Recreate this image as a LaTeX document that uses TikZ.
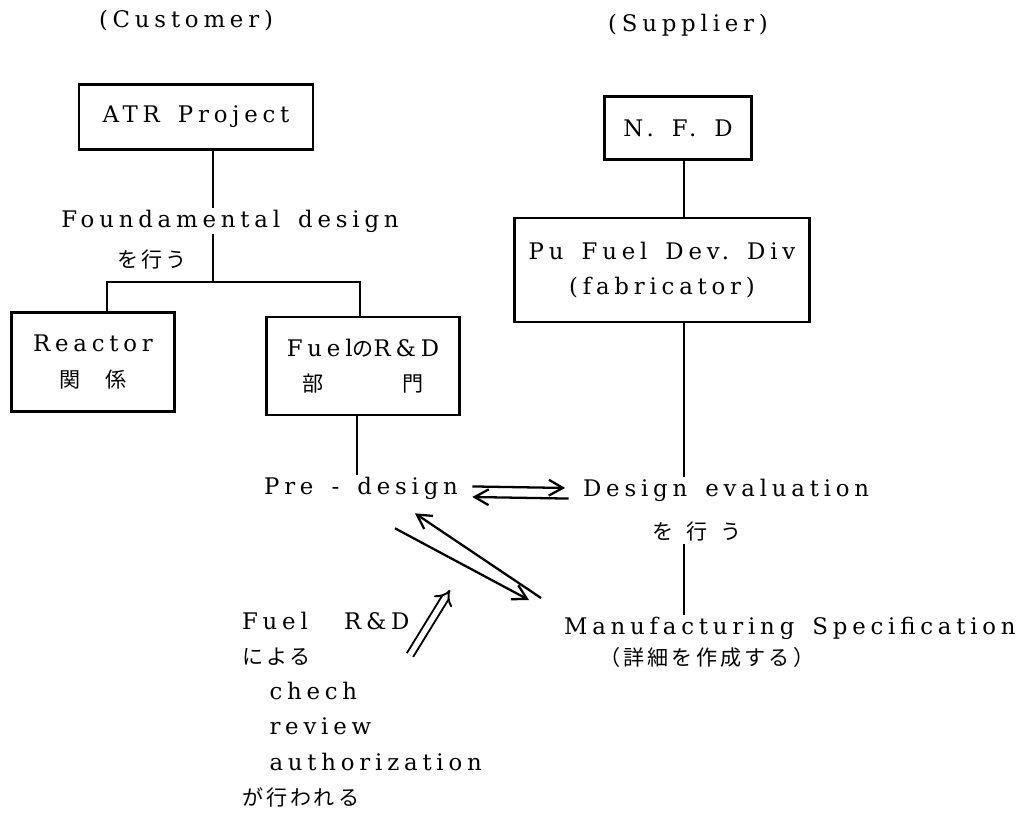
\documentclass[tikz,border=0pt]{standalone}
\usepackage{fontspec}
\setmainfont[LetterSpace=21,WordSpace=1.5]{DejaVu Serif}
\newfontfamily\jpfont[LetterSpace=15]{Noto Sans CJK JP}
\usetikzlibrary{arrows.meta,calc}
\newcommand{\jp}[1]{{\jpfont\fontsize{12}{20}\selectfont #1}}

\begin{document}
\begin{tikzpicture}[
    x=0.02cm, y=-0.02cm,
    font=\fontsize{13}{20}\selectfont,
    orgbox/.style={rectangle, draw, line width=1.5pt, align=center, inner sep=0pt},
    plain/.style={inner sep=1pt, align=center},
    link/.style={line width=1.5pt},
    flow/.style={line width=1.3pt, -{Straight Barb[length=8pt,width=9pt]}},
    >=Stealth
]
\useasboundingbox (0,0) rectangle (1031,820);
\node[plain] (cust) at (186,21) {(Customer)};
\node[orgbox, minimum width=4.68cm, minimum height=1.3cm] (atr) at (196,117) {ATR Project};
\node[plain] (fund) at (230,221) {Foundamental design};
\node[plain] (fundjp) at (152,260) {\jp{を行う}};
\node[orgbox, minimum width=3.26cm, minimum height=1.98cm] (reactor) at (93,362) {Reactor\\\jp{関\hspace{1.2em}係}};
\node[orgbox, minimum width=3.86cm, minimum height=1.96cm] (fuel) at (363,366) {Fuel\jp{の}R\&D\\\jp{部\hspace{3.7em}門}};
\node[plain, anchor=east] (pre) at (460,488) {Pre - design};
\coordinate (trunk) at (213,282);
\coordinate (splitl) at (107,282);
\coordinate (splitr) at (360,282);
\coordinate (drop) at (357,0);
\draw[link] (atr.south -| trunk) -- (fund.north -| trunk);
\draw[link] (fund.south -| trunk) -- (trunk);
\draw[link] (reactor.north -| splitl) -- (splitl) -- (splitr) -- (fuel.north -| splitr);
\draw[link] (fuel.south -| drop) -- (pre.north -| drop);

\node[plain] (supp) at (688,25) {(Supplier)};
\node[orgbox, minimum width=2.94cm, minimum height=1.26cm] (nfd) at (678,128) {N.~F.~D};
\node[orgbox, minimum width=5.9cm, minimum height=2.08cm] (pufuel) at (662,270) {Pu Fuel Dev.~Div\\(fabricator)};
\node[plain, anchor=west] (deval) at (581,490) {Design evaluation};
\node[plain] (devaljp) at (697,532) {\jp{を\hspace{0.6em}行\hspace{0.6em}う}};
\node[plain, anchor=west] (manuf) at (562,628) {Manufacturing Specification};
\node[plain, anchor=west] (manufjp) at (597,657) {\jp{（詳細を作成する）}};
\coordinate (col) at (684,0);
\draw[link] (nfd.south -| col) -- (pufuel.north -| col);
\draw[link] (pufuel.south -| col) -- (deval.north -| col);
\draw[link] (devaljp.south -| col) -- (manuf.north -| col);

\draw[flow, shorten <=7pt, shorten >=9pt] ([yshift=1pt]pre.east) -- ([yshift=1pt]deval.west);
\draw[flow, shorten <=7pt, shorten >=7pt] ([yshift=-5pt]deval.west) -- ([yshift=-5pt]pre.east);
\draw[flow] ($(manuf.west)+(-21,-30)$) -- ($(pre.south east)+(-45,12)$);
\draw[flow] ($(pre.south east)+(-65,27)$) -- ($(manuf.west)+(-33,-28)$);

\node[plain, align=left, anchor=north west] (chk) at (240,610)
    {Fuel\ \ R\&D\\\jp{による}\\\hspace*{1.2em}chech\\\hspace*{1.2em}review\\\hspace*{1.2em}authorization\\\jp{が行われる}};
\draw[double, double distance=3pt, line width=1.1pt, -{Implies}] ($(chk.north west)+(170,45)$) -- ($(chk.north west)+(210,-20)$);
\end{tikzpicture}
\end{document}
